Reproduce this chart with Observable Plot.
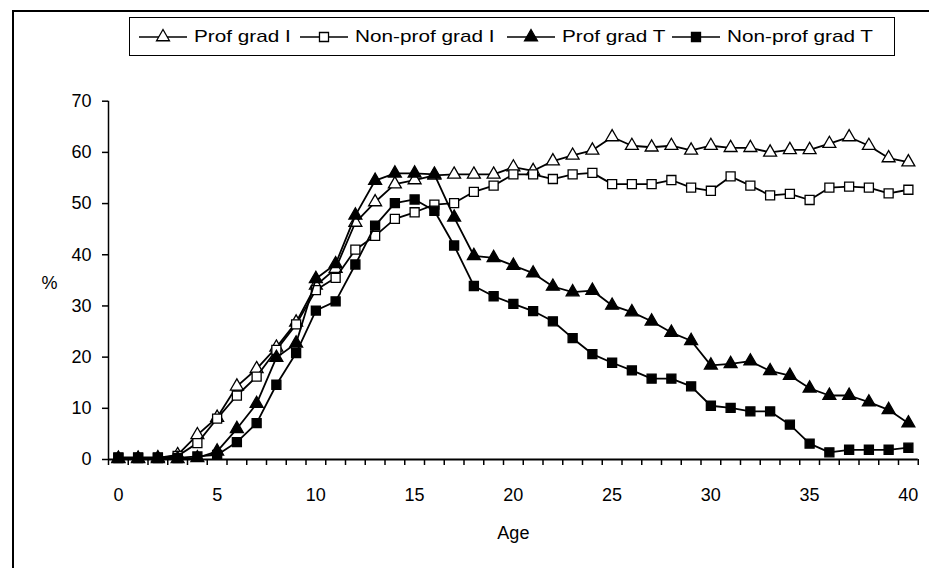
<!DOCTYPE html>
<html>
<head>
<meta charset="utf-8">
<script src="https://cdn.jsdelivr.net/npm/d3@7"></script>
<script src="https://cdn.jsdelivr.net/npm/@observablehq/plot@0.6"></script>
<style>
  html, body { margin: 0; padding: 0; background: #fff; }
  #wrap { position: relative; width: 929px; height: 568px; overflow: hidden; background: #fff;
          font-family: "Liberation Sans", Arial, sans-serif; }
  #frame { position: absolute; left: 12px; top: 10px; width: 1000px; height: 700px;
           border-left: 2px solid #000; border-top: 2px solid #000; pointer-events: none; z-index: 2; }
  #legend { position: absolute; left: 129px; top: 17px; width: 764px; height: 37px;
            border: 1.5px solid #000; background: #fff; z-index: 3; }
  .item { position: absolute; top: 0; height: 37px; display: flex; align-items: center; }
  .item svg { display: block; }
  .lab { display: inline-block; font-size: 17px; color: #000; white-space: nowrap;
         transform: scaleX(1.22); transform-origin: left center; margin-left: 7px; }
  #chart { position: absolute; left: 0; top: 60px; z-index: 1; }
</style>
</head>
<body>
<div id="wrap">
  <div id="chart"></div>
  <div id="frame"></div>
  <div id="legend"></div>
</div>
<script>
// ---------- data ----------
const ages = [0,1,2,3,4,5,6,7,8,9,10,11,12,13,14,15,16,17,18,19,20,
              21,22,23,24,25,26,27,28,29,30,31,32,33,34,35,36,37,38,39,40];
const seriesNames = ["Prof grad I", "Non-prof grad I", "Prof grad T", "Non-prof grad T"];
const profGradI = [0.2,0.2,0.3,0.9,4.8,8.2,14.3,17.7,21.9,26.8,34.0,37.3,46.3,50.3,53.8,54.6,55.5,55.7,55.7,55.7,57.1,
                   56.4,58.3,59.4,60.4,63.0,61.3,61.0,61.3,60.4,61.3,60.9,60.9,60.0,60.5,60.5,61.7,63.0,61.3,58.9,58.1];
const nonProfGradI = [0.3,0.3,0.3,0.7,3.2,8.0,12.5,16.2,21.4,26.4,33.1,35.5,41.0,43.7,47.0,48.3,49.8,50.1,52.3,53.5,55.7,
                      55.7,54.8,55.7,56.0,53.8,53.8,53.8,54.6,53.1,52.5,55.3,53.5,51.6,51.9,50.7,53.1,53.3,53.1,52.0,52.7];
const profGradT = [0.1,0.1,0.1,0.1,0.3,1.6,6.0,10.9,19.9,22.7,35.3,38.2,47.7,54.5,55.9,55.9,55.7,47.3,39.8,39.4,37.9,
                   36.4,33.8,32.7,33.0,30.1,28.8,27.0,24.8,23.2,18.4,18.7,19.2,17.3,16.4,13.9,12.5,12.5,11.2,9.7,7.1];
const nonProfGradT = [0.4,0.4,0.4,0.3,0.6,0.9,3.4,7.1,14.6,20.8,29.1,30.9,38.1,45.7,50.1,50.8,48.6,41.8,33.9,31.9,30.4,
                      29.0,27.0,23.7,20.6,18.9,17.4,15.8,15.8,14.3,10.5,10.1,9.4,9.4,6.8,3.1,1.4,1.9,1.9,1.9,2.3];
const yTicks = [0,10,20,30,40,50,60,70];
const xTickLabels = [0,5,10,15,20,25,30,35,40];
const xAxisTitle = "Age";
const yAxisTitle = "%";

// ---------- styling ----------
const seriesStyle = [
  {symbol: "triangle", fill: "white", r: 4.8},
  {symbol: "square",   fill: "white", r: 5.1},
  {symbol: "triangle", fill: "black", r: 4.8},
  {symbol: "square",   fill: "black", r: 5.1}
];
const valuesList = [profGradI, nonProfGradI, profGradT, nonProfGradT];
const tables = valuesList.map((vals, i) => ages.map((a, j) => ({age: a, value: vals[j], series: seriesNames[i]})));
const boundaries = ages.map(a => a - 0.5).concat([ages[ages.length - 1] + 0.5]);

const fontFamily = '"Liberation Sans", Arial, sans-serif';
const marks = [];
tables.forEach((t, i) => {
  const s = seriesStyle[i];
  marks.push(Plot.line(t, {x: "age", y: "value", stroke: "black", strokeWidth: 1.8}));
  marks.push(Plot.dot(t, {x: "age", y: "value", symbol: () => s.symbol, fill: s.fill, stroke: "black", strokeWidth: 1.3, r: s.r}));
});

const chart = Plot.plot({
  width: 929,
  height: 508,
  marginLeft: 108,
  marginRight: 11.25,
  marginTop: 40.7,
  marginBottom: 109,
  style: {fontFamily, fontSize: "18px", background: "white", overflow: "visible"},
  x: {domain: [boundaries[0], boundaries[boundaries.length - 1]], axis: null},
  y: {domain: [yTicks[0], yTicks[yTicks.length - 1]], axis: null},
  symbol: {type: "identity"},
  marks: [
    Plot.axisY({ticks: yTicks, tickSize: 6, tickPadding: 11, fontSize: 18, strokeWidth: 1.5, label: null, tickFormat: d => String(d)}),
    Plot.axisX({ticks: boundaries, tickSize: 6, strokeWidth: 1.5, label: null, tickFormat: () => ""}),
    Plot.axisX({ticks: xTickLabels, tickSize: 0, tickPadding: 29, fontSize: 18, label: null, tickFormat: d => String(d)}),
    Plot.ruleX([boundaries[0]], {stroke: "black", strokeWidth: 1.5}),
    Plot.ruleY([yTicks[0]], {stroke: "black", strokeWidth: 1.8}),
    Plot.text([yAxisTitle], {frameAnchor: "left", dx: -59, dy: 3, textAnchor: "middle", fontSize: 18, fill: "black"}),
    Plot.text([xAxisTitle], {frameAnchor: "bottom", dy: 74, textAnchor: "middle", lineAnchor: "middle", fontSize: 18, fill: "black"}),
    ...marks
  ]
});
document.getElementById("chart").appendChild(chart);

// ---------- legend ----------
const legend = document.getElementById("legend");
const swatchLeft = [9, 170, 377, 542];  // px within legend box
seriesNames.forEach((name, i) => {
  const s = seriesStyle[i];
  const item = document.createElement("div");
  item.className = "item";
  item.style.left = swatchLeft[i] + "px";
  const w = 48, h = 20;
  const svg = d3.create("svg").attr("width", w).attr("height", h);
  svg.append("line").attr("x1", 0).attr("x2", w).attr("y1", h / 2).attr("y2", h / 2)
     .attr("stroke", "black").attr("stroke-width", 1.5);
  const sym = s.symbol === "triangle" ? d3.symbolTriangle : d3.symbolSquare;
  svg.append("path").attr("d", d3.symbol(sym, s.r * s.r * Math.PI)())
     .attr("transform", `translate(${w / 2},${h / 2})`)
     .attr("fill", s.fill).attr("stroke", "black").attr("stroke-width", 1.3);
  item.appendChild(svg.node());
  const lab = document.createElement("span");
  lab.className = "lab";
  lab.textContent = name;
  item.appendChild(lab);
  legend.appendChild(item);
});
</script>
</body>
</html>
